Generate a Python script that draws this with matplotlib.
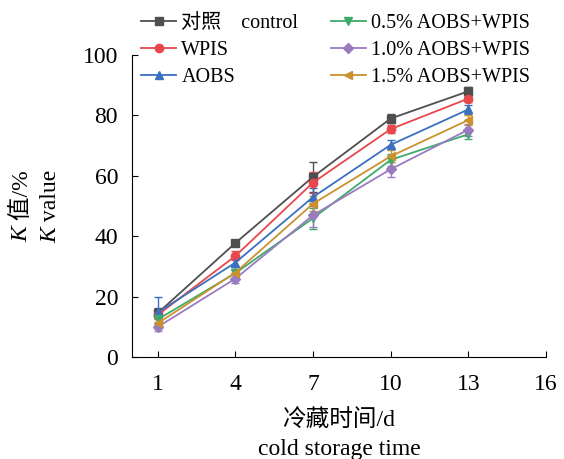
import numpy as np
import matplotlib
matplotlib.use('Agg')
import matplotlib.pyplot as plt
from matplotlib.lines import Line2D

plt.rcParams['font.family'] = ['Liberation Serif', 'Noto Sans CJK SC']

days = [1, 4, 7, 10, 13]
labels = ['对照    control', 'WPIS', 'AOBS', '0.5% AOBS+WPIS', '1.0% AOBS+WPIS', '1.5% AOBS+WPIS']
control = [14.6, 37.8, 59.7, 79.0, 88.0]
wpis = [14.0, 33.5, 57.8, 75.5, 85.6]
aobs = [14.8, 31.3, 53.0, 70.3, 82.0]
aobs05 = [12.5, 27.8, 46.0, 65.3, 73.8]
aobs10 = [10.0, 26.0, 47.0, 62.2, 75.3]
aobs15 = [11.2, 28.0, 50.8, 66.5, 78.5]
err_control = [1.5, 1.0, 5.0, 1.5, 1.5]
err_wpis = [1.5, 1.5, 3.5, 1.2, 1.2]
err_aobs = [5.0, 1.5, 3.0, 1.5, 1.5]
err_05 = [1.5, 2.0, 3.5, 2.0, 1.5]
err_10 = [1.5, 1.5, 4.0, 2.5, 2.0]
err_15 = [1.5, 2.0, 2.5, 2.0, 1.5]

series = [control, wpis, aobs, aobs05, aobs10, aobs15]
errors = [err_control, err_wpis, err_aobs, err_05, err_10, err_15]
colors = ['#4f4f4f', '#e8474c', '#3a70bf', '#3dab6b', '#9a7bc0', '#c9922e']
markers = ['s', 'o', '^', 'v', 'D', '<']

fig = plt.figure(figsize=(5.64, 4.59), dpi=100)
ax = fig.add_axes([0.234, 0.222, 0.734, 0.658])

handles = []
for y, e, c, m, lab in zip(series, errors, colors, markers, labels):
    ms = 6 if m != 'D' else 5
    ax.errorbar(days, y, yerr=e, color=c, marker=m, markersize=ms,
                linewidth=1.3, capsize=3, elinewidth=1.0)
    handles.append(Line2D([], [], color=c, marker=m, markersize=ms, linewidth=1.3, label=lab))

ax.set_xlim(0, 16)
ax.set_ylim(0, 100)
ax.set_xticks([1, 4, 7, 10, 13, 16])
ax.set_yticks([0, 20, 40, 60, 80, 100])
ax.spines['top'].set_visible(False)
ax.spines['right'].set_visible(False)
ax.tick_params(labelsize=17, direction='in', length=4, pad=10)
ax.tick_params(axis='x', pad=12)

ax.set_xlabel('冷藏时间/d\ncold storage time', fontsize=17, labelpad=10, linespacing=1.55)

# y label: two rotated lines, italic K followed by normal text
fs = 17
renderer = fig.canvas.get_renderer()
ycen = 1 - 206 / 459
for xpix, rest in [(22, ' 值/%'), (51, ' value')]:
    tk = fig.text(xpix / 564, 0, 'K', fontsize=fs, style='italic', rotation=90, ha='center', va='bottom')
    tr = fig.text(xpix / 564, 0, rest, fontsize=fs, rotation=90, ha='center', va='bottom')
    hk = tk.get_window_extent(renderer).height / fig.bbox.height
    hr = tr.get_window_extent(renderer).height / fig.bbox.height
    y0 = ycen - (hk + hr) / 2
    tk.set_y(y0)
    tr.set_y(y0 + hk)

fig.legend(handles=handles, ncol=2, loc='upper left', bbox_to_anchor=(0.218, 1.01),
           frameon=False, fontsize=14.5, handlelength=1.75, columnspacing=1.6,
           labelspacing=0.4, handletextpad=0.25)

fig.savefig('out.png', dpi=100)
